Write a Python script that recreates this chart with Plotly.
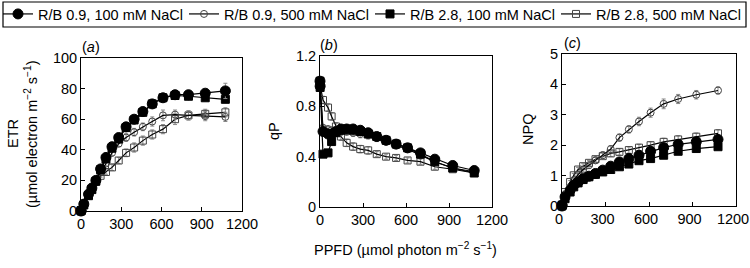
import plotly.graph_objects as go

# ---------------- data ----------------
ppfd = [0, 1, 21, 56, 81, 111, 146, 186, 231, 281, 336, 396, 461, 531, 611, 701, 801, 926, 1076]
series_names = ["R/B 0.9, 100 mM NaCl", "R/B 0.9, 500 mM NaCl",
                "R/B 2.8, 100 mM NaCl", "R/B 2.8, 500 mM NaCl"]

# ETR (panel a)
etr_rb09_100 = [0, 0.3, 4.5, 11, 15, 20, 27.5, 35, 42, 48, 55, 60, 65, 70, 74, 76, 76, 77, 78.5]
etr_rb09_500 = [0, 0.3, 4, 10, 14, 19, 25, 31, 38, 44, 48, 51.5, 55, 58.5, 62.5, 63, 62.5, 62, 61.5]
etr_rb28_100 = [0, 0.3, 4, 10, 14, 19.5, 27, 34, 41, 47, 54.5, 59.5, 64.5, 70, 74, 75.5, 75, 74, 73]
etr_rb28_500 = [0, 0.3, 4, 10, 14, 19, 23, 25.5, 28.5, 33, 38, 41.5, 46, 50, 53.5, 60, 62.5, 63.5, 64.5]
etr_err_rb09_100 = [0, 0, 0.3, 0.5, 0.5, 0.8, 1, 1, 1.2, 1.5, 1.5, 1.5, 1.5, 1.5, 1.5, 2, 2, 2, 5]
etr_err_rb09_500 = [0, 0, 0.3, 0.5, 0.5, 1, 1, 1.5, 2, 2, 2.5, 2.5, 2.5, 3, 3.5, 3, 3, 3, 3]
etr_err_rb28_100 = [0, 0, 0.3, 0.5, 0.5, 0.8, 1, 1, 1, 1.2, 1.2, 1.2, 1.2, 1.2, 1.5, 1.5, 1.5, 1.5, 1.5]
etr_err_rb28_500 = [0, 0, 0.3, 0.5, 0.5, 1, 1, 1.5, 2, 2, 2.5, 3, 3, 3, 3, 3.5, 3, 3, 3]

# qP (panel b)
qp_rb09_100 = [1.0, 0.96, 0.60, 0.58, 0.58, 0.60, 0.62, 0.62, 0.62, 0.61, 0.59, 0.56, 0.53, 0.50, 0.47, 0.43, 0.38, 0.33, 0.29]
qp_rb09_500 = [1.0, 0.95, 0.63, 0.62, 0.61, 0.60, 0.60, 0.60, 0.59, 0.58, 0.57, 0.55, 0.52, 0.49, 0.46, 0.41, 0.36, 0.31, 0.28]
qp_rb28_100 = [1.0, 0.95, 0.42, 0.43, 0.52, 0.59, 0.61, 0.62, 0.61, 0.60, 0.58, 0.56, 0.53, 0.50, 0.47, 0.42, 0.36, 0.31, 0.27]
qp_rb28_500 = [1.0, 0.97, 0.85, 0.79, 0.72, 0.64, 0.56, 0.51, 0.48, 0.46, 0.45, 0.42, 0.40, 0.39, 0.37, 0.36, 0.32, 0.30, 0.27]
qp_err_rb09_100 = [0, 0, 0.02, 0.02, 0.02, 0.02, 0.02, 0.02, 0.02, 0.02, 0.02, 0.02, 0.02, 0.02, 0.02, 0.02, 0.02, 0.01, 0.01]
qp_err_rb09_500 = [0, 0, 0.02, 0.02, 0.02, 0.03, 0.03, 0.03, 0.03, 0.03, 0.03, 0.03, 0.02, 0.02, 0.02, 0.02, 0.02, 0.01, 0.01]
qp_err_rb28_100 = [0, 0, 0.02, 0.02, 0.02, 0.02, 0.02, 0.02, 0.02, 0.02, 0.02, 0.02, 0.02, 0.02, 0.02, 0.02, 0.02, 0.01, 0.01]
qp_err_rb28_500 = [0, 0, 0.03, 0.03, 0.03, 0.03, 0.03, 0.03, 0.03, 0.03, 0.03, 0.02, 0.02, 0.02, 0.02, 0.02, 0.02, 0.01, 0.01]

# NPQ (panel c)
npq_rb09_100 = [0, 0.03, 0.30, 0.52, 0.68, 0.79, 0.90, 0.98, 1.07, 1.18, 1.31, 1.45, 1.56, 1.67, 1.80, 1.92, 2.03, 2.11, 2.19]
npq_rb09_500 = [0, 0.03, 0.38, 0.62, 0.85, 1.03, 1.20, 1.34, 1.50, 1.67, 1.87, 2.25, 2.52, 2.78, 3.07, 3.36, 3.52, 3.66, 3.80]
npq_rb28_100 = [0, 0.03, 0.24, 0.46, 0.63, 0.76, 0.87, 0.96, 1.04, 1.12, 1.20, 1.29, 1.38, 1.49, 1.56, 1.67, 1.80, 1.89, 1.95]
npq_rb28_500 = [0, 0.03, 0.46, 0.79, 1.01, 1.20, 1.31, 1.42, 1.54, 1.64, 1.73, 1.78, 1.84, 1.92, 2.00, 2.11, 2.19, 2.28, 2.39]
npq_err_rb09_100 = [0, 0, 0.03, 0.04, 0.05, 0.05, 0.05, 0.05, 0.05, 0.05, 0.06, 0.06, 0.06, 0.06, 0.06, 0.06, 0.06, 0.06, 0.07]
npq_err_rb09_500 = [0, 0, 0.04, 0.05, 0.06, 0.08, 0.08, 0.10, 0.10, 0.12, 0.12, 0.12, 0.12, 0.14, 0.15, 0.16, 0.15, 0.14, 0.12]
npq_err_rb28_100 = [0, 0, 0.03, 0.04, 0.05, 0.05, 0.05, 0.05, 0.05, 0.05, 0.05, 0.05, 0.05, 0.05, 0.05, 0.05, 0.06, 0.06, 0.06]
npq_err_rb28_500 = [0, 0, 0.04, 0.05, 0.06, 0.07, 0.08, 0.08, 0.09, 0.10, 0.10, 0.10, 0.10, 0.11, 0.11, 0.12, 0.12, 0.12, 0.12]

# ---------------- styling ----------------
W, H = 750, 268
FONT = "Liberation Sans, Arial, Helvetica, sans-serif"

def px_x(p):
    return p / W

def px_y(p):
    return 1 - p / H

styles = {
    series_names[0]: dict(symbol="circle", size=10, color="black", lc="black", rank=1),
    series_names[1]: dict(symbol="circle-open", size=7, color="#444", lc="#444", rank=2),
    series_names[2]: dict(symbol="square", size=8, color="black", lc="black", rank=3),
    series_names[3]: dict(symbol="square-open", size=7, color="#444", lc="#444", rank=4),
}

panels = [
    ("x", "y", [etr_rb09_100, etr_rb09_500, etr_rb28_100, etr_rb28_500],
     [etr_err_rb09_100, etr_err_rb09_500, etr_err_rb28_100, etr_err_rb28_500], True),
    ("x2", "y2", [qp_rb09_100, qp_rb09_500, qp_rb28_100, qp_rb28_500],
     [qp_err_rb09_100, qp_err_rb09_500, qp_err_rb28_100, qp_err_rb28_500], False),
    ("x3", "y3", [npq_rb09_100, npq_rb09_500, npq_rb28_100, npq_rb28_500],
     [npq_err_rb09_100, npq_err_rb09_500, npq_err_rb28_100, npq_err_rb28_500], False),
]

fig = go.Figure()
draw_order = [3, 1, 2, 0]  # open markers first, filled on top
for xa, ya, vals, errs, show in panels:
    for i in draw_order:
        name = series_names[i]
        st = styles[name]
        fig.add_trace(go.Scatter(
            x=ppfd, y=vals[i], name=name, xaxis=xa, yaxis=ya,
            mode="lines+markers", cliponaxis=False,
            line=dict(color="black", width=1.2),
            marker=dict(symbol=st["symbol"], size=st["size"], color=st["color"],
                        line=dict(color=st["lc"], width=1)),
            error_y=dict(type="data", array=errs[i], color="#888", thickness=1, width=2),
            showlegend=show, legendrank=st["rank"],
        ))

axis_common = dict(showline=True, linecolor="black", linewidth=1, mirror=True,
                   ticks="inside", ticklen=4, tickcolor="black", showgrid=False,
                   zeroline=False, tickfont=dict(size=14.5, color="black", family=FONT))

fig.update_layout(
    xaxis=dict(domain=[px_x(81), px_x(242)], range=[0, 1200], dtick=300, anchor="y", **axis_common),
    yaxis=dict(domain=[px_y(211), px_y(58)], range=[0, 100], dtick=20, anchor="x", **axis_common),
    xaxis2=dict(domain=[px_x(320), px_x(492)], range=[0, 1200], dtick=300, anchor="y2", **axis_common),
    yaxis2=dict(domain=[px_y(207), px_y(56)], range=[0, 1.2], dtick=0.4, anchor="x2", **axis_common),
    xaxis3=dict(domain=[px_x(562), px_x(736)], range=[0, 1200], dtick=300, anchor="y3",
                ticklabeloverflow="allow", ticklabelshift=-3, **axis_common),
    yaxis3=dict(domain=[px_y(206), px_y(54)], range=[0, 5], dtick=1, anchor="x3", **axis_common),
)

annotations = [
    dict(text="ETR", x=px_x(13), y=px_y(134), textangle=-90),
    dict(text="(µmol electron m<sup>−2</sup> s<sup>−1</sup>)", x=px_x(31), y=px_y(134), textangle=-90),
    dict(text="qP", x=px_x(274), y=px_y(131), textangle=-90),
    dict(text="NPQ", x=px_x(528), y=px_y(130), textangle=-90),
    dict(text="PPFD (µmol photon m<sup>−2</sup> s<sup>−1</sup>)", x=px_x(405), y=px_y(249)),
    dict(text="(<i>a</i>)", x=px_x(91), y=px_y(47)),
    dict(text="(<i>b</i>)", x=px_x(329), y=px_y(45)),
    dict(text="(<i>c</i>)", x=px_x(572), y=px_y(43)),
]
for a in annotations:
    a.update(xref="paper", yref="paper", showarrow=False, xanchor="center", yanchor="middle",
             font=dict(size=14.5, color="black", family=FONT))

fig.update_layout(
    width=W, height=H, margin=dict(l=0, r=0, t=0, b=0, autoexpand=False),
    paper_bgcolor="white", plot_bgcolor="white",
    font=dict(family=FONT, size=14.5, color="black"),
    annotations=annotations,
    shapes=[dict(type="rect", xref="paper", yref="paper",
                 x0=px_x(3), x1=px_x(746), y0=px_y(27), y1=px_y(2),
                 line=dict(color="black", width=1.2), fillcolor="rgba(0,0,0,0)")],
    legend=dict(orientation="h", x=px_x(-2), y=px_y(-2), xanchor="left", yanchor="top",
                font=dict(size=14.5, family=FONT, color="black"),
                bgcolor="rgba(0,0,0,0)", borderwidth=0, itemwidth=30,
                entrywidth=141, entrywidthmode="pixels", traceorder="normal"),
)

fig.write_html("out.html", config={"displayModeBar": False},
               post_script="document.body.style.margin='0';document.body.style.overflow='hidden';")
